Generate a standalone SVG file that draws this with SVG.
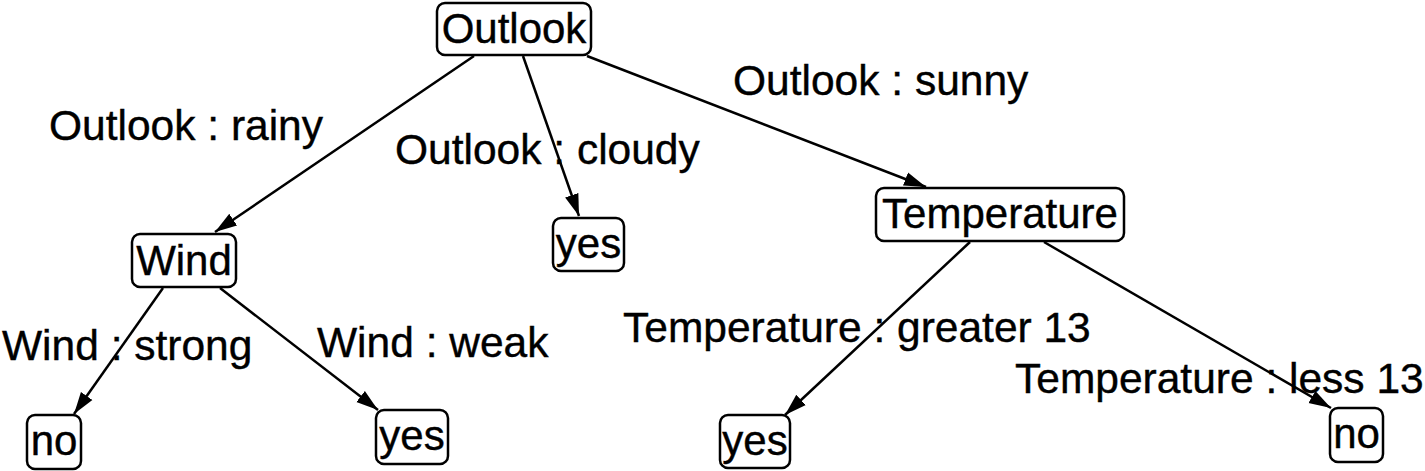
<svg xmlns="http://www.w3.org/2000/svg" width="1425" height="471" viewBox="0 0 1425 471">
<style>
.box{fill:#fff;stroke:#000;stroke-width:2.5}
.nt{font-family:"Liberation Sans",Arial,sans-serif;font-size:42px;fill:#000;stroke:#000;stroke-width:0.4;text-anchor:middle}
.lb{font-family:"Liberation Sans",Arial,sans-serif;font-size:42.5px;fill:#000;stroke:#000;stroke-width:0.4}
.edge{stroke:#000;stroke-width:2.5;fill:none;marker-end:url(#arr)}
</style>
<defs>
<marker id="arr" markerUnits="userSpaceOnUse" markerWidth="24" markerHeight="16" refX="22" refY="7" orient="auto" viewBox="0 0 24 14">
<path d="M0,0 L22,7 L0,14 Z" fill="#000"/>
</marker>
</defs>
<rect width="1425" height="471" fill="#fff"/>
<g id="connectors">
<line class="edge" x1="474" y1="56" x2="215" y2="232"/>
<line class="edge" x1="523" y1="56" x2="579" y2="216"/>
<line class="edge" x1="587" y1="56" x2="926" y2="187"/>
<line class="edge" x1="163" y1="288" x2="74" y2="414"/>
<line class="edge" x1="220" y1="288" x2="378" y2="410"/>
<line class="edge" x1="970" y1="242" x2="785" y2="415"/>
<line class="edge" x1="1044" y1="242" x2="1331" y2="408"/>
</g>
<g id="edge-labels">
<text class="lb" x="49" y="140">Outlook : rainy</text>
<text class="lb" x="395" y="164">Outlook : cloudy</text>
<text class="lb" x="733" y="95">Outlook : sunny</text>
<text class="lb" x="2" y="360">Wind : strong</text>
<text class="lb" x="317" y="357">Wind : weak</text>
<text class="lb" x="623" y="342">Temperature : greater 13</text>
<text class="lb" x="1015" y="393">Temperature : less 13</text>
</g>
<g id="node-outlook">
<rect class="box" x="437" y="3" width="154" height="52" rx="8"/>
<text class="nt" x="514" y="43">Outlook</text>
</g>
<g id="node-wind">
<rect class="box" x="132" y="234" width="104" height="53" rx="8"/>
<text class="nt" x="184" y="275">Wind</text>
</g>
<g id="node-yes-cloudy">
<rect class="box" x="553" y="218" width="71" height="53" rx="8"/>
<text class="nt" x="588.5" y="258">yes</text>
</g>
<g id="node-temperature">
<rect class="box" x="876" y="188" width="248" height="53" rx="8"/>
<text class="nt" x="1000" y="228">Temperature</text>
</g>
<g id="node-no-strong">
<rect class="box" x="27" y="415" width="54" height="54" rx="8"/>
<text class="nt" x="54" y="455">no</text>
</g>
<g id="node-yes-weak">
<rect class="box" x="376" y="410" width="72" height="54" rx="8"/>
<text class="nt" x="412" y="450">yes</text>
</g>
<g id="node-yes-greater">
<rect class="box" x="720" y="415" width="70" height="53" rx="8"/>
<text class="nt" x="755" y="455">yes</text>
</g>
<g id="node-no-less">
<rect class="box" x="1330" y="408" width="53" height="54" rx="8"/>
<text class="nt" x="1356.5" y="448">no</text>
</g>
</svg>
